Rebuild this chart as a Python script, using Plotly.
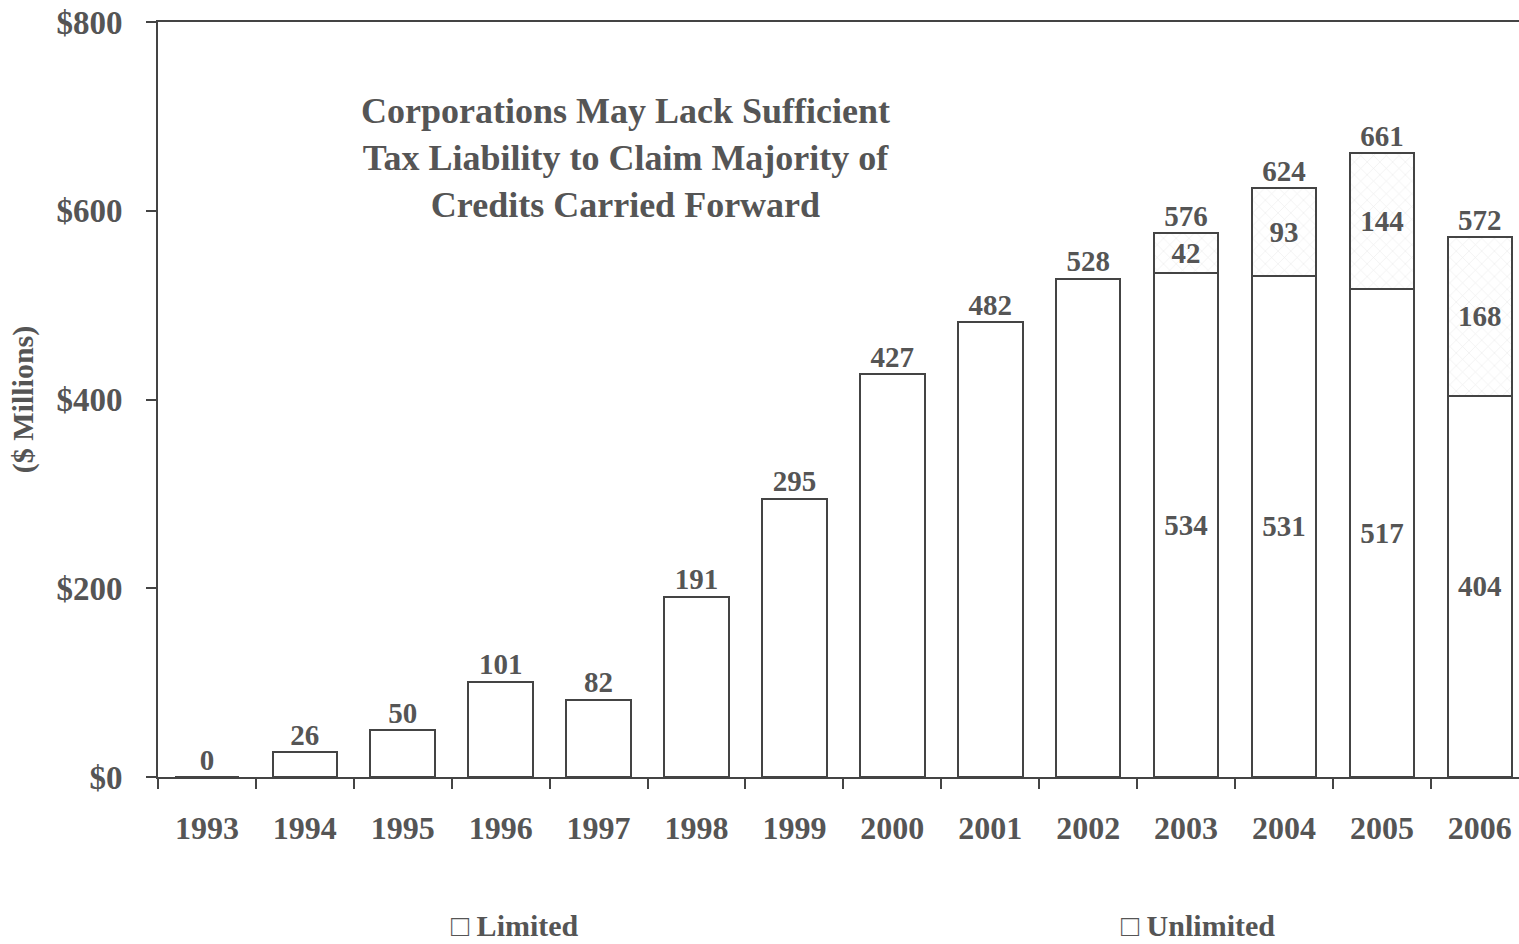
import plotly.graph_objects as go

# Research credit carryforwards by year, $ millions
years = ["1993", "1994", "1995", "1996", "1997", "1998", "1999",
         "2000", "2001", "2002", "2003", "2004", "2005", "2006"]
limited = [0, 26, 50, 101, 82, 191, 295, 427, 482, 528, 534, 531, 517, 404]
unlimited = [0, 0, 0, 0, 0, 0, 0, 0, 0, 0, 42, 93, 144, 168]
y_ticks = [0, 200, 400, 600, 800]
y_tick_labels = ["$0", "$200", "$400", "$600", "$800"]

totals = [a + b for a, b in zip(limited, unlimited)]
split = [u > 0 for u in unlimited]

FONT = "Liberation Serif, Times New Roman, serif"
TXT = "#555555"
EDGE = "#444444"

fig = go.Figure()

fig.add_bar(
    x=years, y=limited, name="Limited",
    width=0.66,
    marker=dict(color="white", line=dict(color=EDGE, width=2)),
    text=[str(v) if s else "" for v, s in zip(limited, split)],
    textposition="inside", insidetextanchor="middle",
    textfont=dict(family=FONT, size=29, color=TXT, weight="bold"),
    cliponaxis=False,
)
fig.add_bar(
    x=years, y=unlimited, name="Unlimited",
    width=0.66,
    marker=dict(color="white", line=dict(color=EDGE, width=2),
                pattern=dict(shape="x", fgcolor="#dcdcdc", bgcolor="white",
                             size=9, solidity=0.15)),
    text=[str(v) if s else "" for v, s in zip(unlimited, split)],
    textposition="inside", insidetextanchor="middle",
    textfont=dict(family=FONT, size=29, color=TXT, weight="bold"),
)

# Totals above each bar
fig.add_scatter(
    x=years, y=totals, mode="text",
    text=[str(t) for t in totals], textposition="top center",
    textfont=dict(family=FONT, size=29, color=TXT, weight="bold"),
    showlegend=False, cliponaxis=False,
)

fig.update_layout(
    width=1519, height=944,
    margin=dict(l=158, r=0, t=22, b=167),
    barmode="stack",
    plot_bgcolor="white", paper_bgcolor="white",
    showlegend=False,
    font=dict(family=FONT, color=TXT),
    uniformtext=dict(minsize=29, mode="show"),
)

fig.update_xaxes(
    type="category", range=[-0.5, 13.4],
    showline=True, linecolor=EDGE, linewidth=2, mirror=True,
    ticks="outside", tickson="boundaries", ticklen=10, tickwidth=1.5,
    tickcolor=EDGE, ticklabelstandoff=22,
    tickfont=dict(family=FONT, size=32, color=TXT, weight="bold"),
    showgrid=False,
)
fig.update_yaxes(
    range=[0, 800], tickvals=y_ticks, ticktext=y_tick_labels,
    showline=True, linecolor=EDGE, linewidth=2,
    ticks="outside", ticklen=10, tickwidth=1.5, tickcolor=EDGE,
    ticklabelstandoff=17,
    tickfont=dict(family=FONT, size=33, color=TXT, weight="bold"),
    showgrid=False, zeroline=False,
    title=dict(text="($ Millions)", standoff=14,
               font=dict(family=FONT, size=30, color=TXT, weight="bold")),
)

fig.add_annotation(
    xref="paper", yref="paper", x=(625 - 158) / 1361, y=(777 - 158) / 755,
    xanchor="center", yanchor="middle",
    text="Corporations May Lack Sufficient<br>Tax Liability to Claim Majority of<br>Credits Carried Forward",
    showarrow=False, align="center",
    font=dict(family=FONT, size=36, color=TXT, weight="bold"),
)

# Legend entries below the axis
for label, px in [("□ Limited", 515), ("□ Unlimited", 1198)]:
    fig.add_annotation(
        xref="paper", yref="paper", x=(px - 158) / 1361, y=-(925 - 777) / 755,
        xanchor="center", yanchor="middle",
        text=label, showarrow=False,
        font=dict(family=FONT, size=30, color=TXT, weight="bold"),
    )

fig.write_html("out.html")
